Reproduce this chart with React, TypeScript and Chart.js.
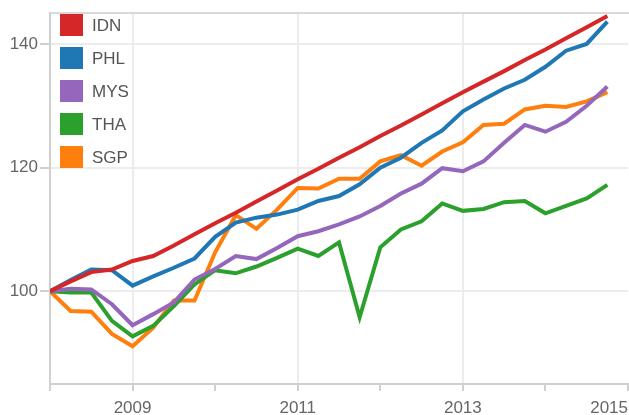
import React, { useEffect, useRef } from "react";
import { Chart, registerables } from "chart.js";

Chart.register(...registerables);

const quarters: number[] = [
  2008.0, 2008.25, 2008.5, 2008.75, 2009.0, 2009.25, 2009.5, 2009.75,
  2010.0, 2010.25, 2010.5, 2010.75, 2011.0, 2011.25, 2011.5, 2011.75,
  2012.0, 2012.25, 2012.5, 2012.75, 2013.0, 2013.25, 2013.5, 2013.75,
  2014.0, 2014.25, 2014.5, 2014.75,
];

const seriesNames = ["IDN", "PHL", "MYS", "THA", "SGP"];
const seriesColors = ["#d62728", "#1f77b4", "#9467bd", "#2ca02c", "#ff7f0e"];

const idn = [100, 101.6, 103.1, 103.5, 104.9, 105.7, 107.4, 109.2, 111.0, 112.7, 114.5, 116.3, 118.1, 119.8, 121.6, 123.3, 125.1, 126.8, 128.6, 130.4, 132.2, 133.9, 135.6, 137.4, 139.1, 140.9, 142.7, 144.5];
const phl = [100, 101.8, 103.5, 103.4, 100.9, 102.4, 103.8, 105.3, 108.8, 111.1, 111.9, 112.4, 113.2, 114.6, 115.4, 117.3, 120.0, 121.6, 124.0, 126.0, 129.1, 131.0, 132.8, 134.2, 136.3, 138.9, 140.0, 143.6];
const mys = [100, 100.4, 100.3, 97.9, 94.5, 96.3, 98.2, 101.9, 103.6, 105.7, 105.2, 107.0, 108.9, 109.7, 110.8, 112.1, 113.8, 115.8, 117.4, 119.9, 119.4, 121.0, 124.0, 126.9, 125.8, 127.4, 130.0, 133.1];
const tha = [100, 99.8, 99.8, 95.2, 92.7, 94.4, 97.6, 101.1, 103.4, 102.9, 104.0, 105.4, 106.9, 105.7, 107.9, 95.8, 107.1, 110.0, 111.3, 114.2, 113.0, 113.3, 114.4, 114.6, 112.6, 113.8, 115.0, 117.2];
const sgp = [100, 96.8, 96.7, 93.1, 91.1, 94.1, 98.5, 98.5, 106.3, 112.3, 110.1, 113.2, 116.7, 116.6, 118.2, 118.2, 121.0, 122.0, 120.3, 122.6, 124.1, 126.9, 127.1, 129.4, 130.0, 129.8, 130.7, 132.2];

const allSeries = [idn, phl, mys, tha, sgp];
const yTicks = [100, 120, 140];
const xTicks = [2008, 2009, 2010, 2011, 2012, 2013, 2014, 2015];

const FONT = "'Liberation Sans', Arial, sans-serif";

const frameAndLegend = {
  id: "frameAndLegend",
  afterDraw(chart: any) {
    const { ctx, chartArea } = chart;
    ctx.save();
    ctx.strokeStyle = "#d9d9d9";
    ctx.lineWidth = 2;
    ctx.beginPath();
    ctx.moveTo(chartArea.left, chartArea.top);
    ctx.lineTo(chart.width, chartArea.top);
    ctx.stroke();
    ctx.font = `17px ${FONT}`;
    ctx.textBaseline = "middle";
    ctx.textAlign = "left";
    chart.data.datasets.forEach((ds: any, i: number) => {
      const cy = chartArea.top + 12 + i * 33;
      ctx.fillStyle = ds.borderColor;
      ctx.fillRect(chartArea.left + 10, cy - 11, 23, 22);
      ctx.fillStyle = "#555";
      ctx.fillText(ds.label, chartArea.left + 42, cy + 1);
    });
    ctx.restore();
  },
};

export default function App() {
  const ref = useRef<HTMLCanvasElement | null>(null);
  useEffect(() => {
    if (!ref.current) return;
    const chart = new Chart(ref.current, {
      type: "line",
      data: {
        datasets: seriesNames.map((name, k) => ({
          label: name,
          data: quarters.map((q, i) => ({ x: q, y: allSeries[k][i] })),
          borderColor: seriesColors[k],
          backgroundColor: seriesColors[k],
          borderWidth: 4,
          pointRadius: 0,
          tension: 0,
          fill: false,
        })),
      },
      options: {
        animation: false,
        responsive: true,
        maintainAspectRatio: false,
        layout: { padding: { top: 13, right: 1, left: 0, bottom: 0 } },
        plugins: {
          legend: { display: false },
          tooltip: { enabled: false },
        },
        scales: {
          x: {
            type: "linear",
            min: 2008,
            max: 2015,
            afterBuildTicks: (scale: any) => {
              scale.ticks = xTicks.map((v) => ({ value: v }));
            },
            afterFit: (scale: any) => {
              scale.height = 31;
              scale.paddingLeft = 0;
              scale.paddingRight = 0;
            },
            ticks: {
              color: "#666",
              font: { family: FONT, size: 17 },
              padding: 7,
              align: "inner",
              maxRotation: 0,
              autoSkip: false,
              callback: (v: any) => (Number(v) % 2 === 1 ? String(v) : ""),
            },
            grid: {
              color: (c: any) =>
                c.tick && c.tick.value % 2 === 1 && c.tick.value !== 2015 ? "#ececec" : "rgba(0,0,0,0)",
              tickColor: "#d0d0d0",
              tickLength: 7,
              lineWidth: 2,
            },
            border: { color: "#d0d0d0", width: 2 },
          },
          y: {
            type: "linear",
            min: 85,
            max: 145,
            afterBuildTicks: (scale: any) => {
              scale.ticks = yTicks.map((v) => ({ value: v }));
            },
            afterFit: (scale: any) => {
              scale.width = 50;
            },
            ticks: {
              color: "#666",
              font: { family: FONT, size: 17 },
              padding: 2,
            },
            grid: {
              color: "#ececec",
              tickColor: "#d0d0d0",
              tickLength: 10,
              lineWidth: 2,
            },
            border: { color: "#d0d0d0", width: 2 },
          },
        },
      },
      plugins: [frameAndLegend],
    } as any);
    return () => chart.destroy();
  }, []);
  return (
    <div style={{ position: "fixed", left: 0, top: 0, width: 629, height: 415, background: "#fff" }}>
      <canvas ref={ref} />
    </div>
  );
}
